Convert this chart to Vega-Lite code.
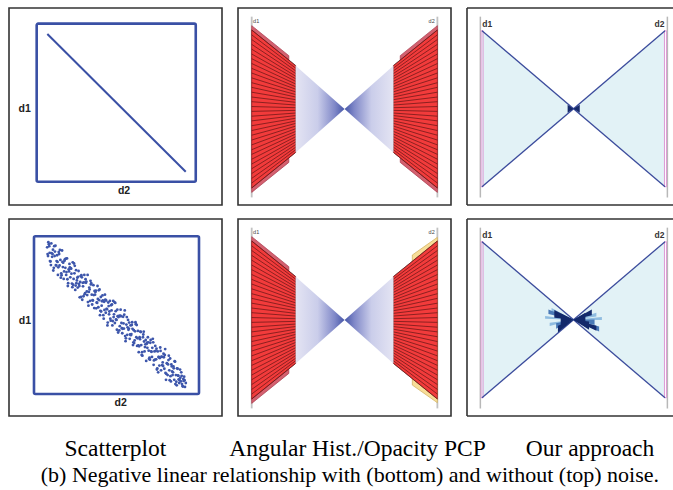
{
  "$schema": "https://vega.github.io/schema/vega-lite/v6.json",
  "padding": {"left": 8, "top": 7, "right": 0, "bottom": 0},
  "background": "white",
  "spacing": 12,
  "config": {"view": {"stroke": "#333333", "strokeWidth": 1.6}},
  "datasets": {
    "noisy": [
      {"x":0.080,"y":0.930},{"x":0.085,"y":0.875},{"x":0.090,"y":0.950},{"x":0.095,"y":0.895},{"x":0.100,"y":0.840},{"x":0.105,"y":0.955},{"x":0.110,"y":0.870},{"x":0.115,"y":0.915},{"x":0.120,"y":0.800},{"x":0.125,"y":0.875},{"x":0.130,"y":0.940},{"x":0.135,"y":0.815},{"x":0.140,"y":0.880},{"x":0.145,"y":0.755},{"x":0.150,"y":0.900},{"x":0.155,"y":0.815},{"x":0.160,"y":0.850},{"x":0.165,"y":0.765},{"x":0.170,"y":0.910},{"x":0.175,"y":0.805},{"x":0.180,"y":0.730},{"x":0.185,"y":0.845},{"x":0.190,"y":0.800},{"x":0.195,"y":0.755},{"x":0.200,"y":0.860},{"x":0.205,"y":0.685},{"x":0.210,"y":0.790},{"x":0.215,"y":0.825},{"x":0.220,"y":0.740},{"x":0.225,"y":0.795},{"x":0.230,"y":0.700},{"x":0.235,"y":0.835},{"x":0.240,"y":0.730},{"x":0.245,"y":0.765},{"x":0.250,"y":0.660},{"x":0.255,"y":0.785},{"x":0.260,"y":0.720},{"x":0.265,"y":0.675},{"x":0.270,"y":0.780},{"x":0.275,"y":0.685},{"x":0.280,"y":0.710},{"x":0.285,"y":0.615},{"x":0.290,"y":0.740},{"x":0.295,"y":0.705},{"x":0.300,"y":0.620},{"x":0.305,"y":0.755},{"x":0.310,"y":0.640},{"x":0.315,"y":0.705},{"x":0.320,"y":0.650},{"x":0.325,"y":0.755},{"x":0.330,"y":0.560},{"x":0.335,"y":0.675},{"x":0.340,"y":0.590},{"x":0.345,"y":0.695},{"x":0.350,"y":0.630},{"x":0.355,"y":0.595},{"x":0.360,"y":0.690},{"x":0.365,"y":0.545},{"x":0.370,"y":0.630},{"x":0.375,"y":0.655},{"x":0.380,"y":0.580},{"x":0.385,"y":0.685},{"x":0.390,"y":0.550},{"x":0.395,"y":0.595},{"x":0.400,"y":0.500},{"x":0.405,"y":0.615},{"x":0.410,"y":0.560},{"x":0.415,"y":0.625},{"x":0.420,"y":0.500},{"x":0.425,"y":0.585},{"x":0.430,"y":0.630},{"x":0.435,"y":0.515},{"x":0.440,"y":0.540},{"x":0.445,"y":0.435},{"x":0.450,"y":0.580},{"x":0.455,"y":0.505},{"x":0.460,"y":0.590},{"x":0.465,"y":0.465},{"x":0.470,"y":0.530},{"x":0.475,"y":0.435},{"x":0.480,"y":0.590},{"x":0.485,"y":0.505},{"x":0.490,"y":0.450},{"x":0.495,"y":0.525},{"x":0.500,"y":0.470},{"x":0.505,"y":0.535},{"x":0.510,"y":0.390},{"x":0.515,"y":0.495},{"x":0.520,"y":0.430},{"x":0.525,"y":0.535},{"x":0.530,"y":0.450},{"x":0.535,"y":0.385},{"x":0.540,"y":0.490},{"x":0.545,"y":0.415},{"x":0.550,"y":0.530},{"x":0.555,"y":0.335},{"x":0.560,"y":0.440},{"x":0.565,"y":0.375},{"x":0.570,"y":0.470},{"x":0.575,"y":0.415},{"x":0.580,"y":0.350},{"x":0.585,"y":0.435},{"x":0.590,"y":0.380},{"x":0.595,"y":0.455},{"x":0.600,"y":0.310},{"x":0.605,"y":0.405},{"x":0.610,"y":0.340},{"x":0.615,"y":0.455},{"x":0.620,"y":0.360},{"x":0.625,"y":0.305},{"x":0.630,"y":0.400},{"x":0.635,"y":0.265},{"x":0.640,"y":0.360},{"x":0.645,"y":0.395},{"x":0.650,"y":0.310},{"x":0.655,"y":0.265},{"x":0.660,"y":0.360},{"x":0.665,"y":0.395},{"x":0.670,"y":0.270},{"x":0.675,"y":0.315},{"x":0.680,"y":0.210},{"x":0.685,"y":0.325},{"x":0.690,"y":0.360},{"x":0.695,"y":0.275},{"x":0.700,"y":0.230},{"x":0.705,"y":0.325},{"x":0.710,"y":0.270},{"x":0.715,"y":0.235},{"x":0.720,"y":0.350},{"x":0.725,"y":0.185},{"x":0.730,"y":0.270},{"x":0.735,"y":0.305},{"x":0.740,"y":0.220},{"x":0.745,"y":0.155},{"x":0.750,"y":0.270},{"x":0.755,"y":0.235},{"x":0.760,"y":0.180},{"x":0.765,"y":0.295},{"x":0.770,"y":0.150},{"x":0.775,"y":0.235},{"x":0.780,"y":0.200},{"x":0.785,"y":0.255},{"x":0.790,"y":0.160},{"x":0.795,"y":0.285},{"x":0.800,"y":0.090},{"x":0.805,"y":0.195},{"x":0.810,"y":0.120},{"x":0.815,"y":0.215},{"x":0.820,"y":0.150},{"x":0.825,"y":0.225},{"x":0.830,"y":0.080},{"x":0.835,"y":0.175},{"x":0.840,"y":0.120},{"x":0.845,"y":0.175},{"x":0.850,"y":0.090},{"x":0.855,"y":0.205},{"x":0.860,"y":0.120},{"x":0.865,"y":0.055},{"x":0.870,"y":0.160},{"x":0.875,"y":0.115},{"x":0.880,"y":0.070},{"x":0.885,"y":0.155},{"x":0.890,"y":0.080},{"x":0.895,"y":0.115},{"x":0.900,"y":0.050},{"x":0.905,"y":0.095},{"x":0.910,"y":0.110},{"x":0.915,"y":0.045},{"x":0.920,"y":0.070},
      {"x":0.0825,"y":0.8875},{"x":0.0925,"y":0.9375},{"x":0.1025,"y":0.8175},{"x":0.1125,"y":0.8875},{"x":0.1225,"y":0.9375},{"x":0.1325,"y":0.8175},{"x":0.1425,"y":0.8375},{"x":0.1525,"y":0.8875},{"x":0.1625,"y":0.7375},{"x":0.1725,"y":0.8375},{"x":0.1825,"y":0.7775},{"x":0.1925,"y":0.8575},{"x":0.2025,"y":0.7275},{"x":0.2125,"y":0.7775},{"x":0.2225,"y":0.7975},{"x":0.2325,"y":0.6775},{"x":0.2425,"y":0.8275},{"x":0.2525,"y":0.6875},{"x":0.2625,"y":0.7375},{"x":0.2725,"y":0.6975},{"x":0.2825,"y":0.7475},{"x":0.2925,"y":0.5975},{"x":0.3025,"y":0.7075},{"x":0.3125,"y":0.7275},{"x":0.3225,"y":0.6275},{"x":0.3325,"y":0.6475},{"x":0.3425,"y":0.7175},{"x":0.3525,"y":0.5675},{"x":0.3625,"y":0.6275},{"x":0.3725,"y":0.6475},{"x":0.3825,"y":0.5775},{"x":0.3925,"y":0.6575},{"x":0.4025,"y":0.5275},{"x":0.4125,"y":0.5875},{"x":0.4225,"y":0.4775},{"x":0.4325,"y":0.5975},{"x":0.4425,"y":0.5375},{"x":0.4525,"y":0.5575},{"x":0.4625,"y":0.4775},{"x":0.4725,"y":0.5675},{"x":0.4825,"y":0.4875},{"x":0.4925,"y":0.5775},{"x":0.5025,"y":0.4075},{"x":0.5125,"y":0.4875},{"x":0.5225,"y":0.4975},{"x":0.5325,"y":0.4175},{"x":0.5425,"y":0.4475},{"x":0.5525,"y":0.3675},{"x":0.5625,"y":0.4875},{"x":0.5725,"y":0.4075},{"x":0.5825,"y":0.3775},{"x":0.5925,"y":0.4375},{"x":0.6025,"y":0.3275},{"x":0.6125,"y":0.3975},{"x":0.6225,"y":0.4375},{"x":0.6325,"y":0.3075},{"x":0.6425,"y":0.3475},{"x":0.6525,"y":0.2475},{"x":0.6625,"y":0.3775},{"x":0.6725,"y":0.2975},{"x":0.6825,"y":0.3175},{"x":0.6925,"y":0.3275},{"x":0.7025,"y":0.2175},{"x":0.7125,"y":0.2675},{"x":0.7225,"y":0.3275},{"x":0.7325,"y":0.2175},{"x":0.7425,"y":0.2875},{"x":0.7525,"y":0.1375},{"x":0.7625,"y":0.2275},{"x":0.7725,"y":0.2375},{"x":0.7825,"y":0.1775},{"x":0.7925,"y":0.2475},{"x":0.8025,"y":0.1275},{"x":0.8125,"y":0.1875},{"x":0.8225,"y":0.0875},{"x":0.8325,"y":0.1875},{"x":0.8425,"y":0.1375},{"x":0.8525,"y":0.2075},{"x":0.8625,"y":0.0775},{"x":0.8725,"y":0.1175},{"x":0.8825,"y":0.0875},{"x":0.8925,"y":0.1375},{"x":0.9025,"y":0.0475},{"x":0.9125,"y":0.0875},
      {"x":0.087,"y":0.963},{"x":0.097,"y":0.843},{"x":0.107,"y":0.893},{"x":0.117,"y":0.783},{"x":0.127,"y":0.903},{"x":0.137,"y":0.843},{"x":0.147,"y":0.803},{"x":0.157,"y":0.913},{"x":0.167,"y":0.753},{"x":0.177,"y":0.833},{"x":0.187,"y":0.853},{"x":0.197,"y":0.773},{"x":0.207,"y":0.703},{"x":0.217,"y":0.803},{"x":0.227,"y":0.763},{"x":0.237,"y":0.693},{"x":0.247,"y":0.813},{"x":0.257,"y":0.703},{"x":0.267,"y":0.743},{"x":0.277,"y":0.613},{"x":0.287,"y":0.753},{"x":0.297,"y":0.683},{"x":0.307,"y":0.633},{"x":0.317,"y":0.713},{"x":0.327,"y":0.583},{"x":0.337,"y":0.663},{"x":0.347,"y":0.703},{"x":0.357,"y":0.593},{"x":0.367,"y":0.653},{"x":0.377,"y":0.543},{"x":0.387,"y":0.603},{"x":0.397,"y":0.663},{"x":0.407,"y":0.523},{"x":0.417,"y":0.593},{"x":0.427,"y":0.533},{"x":0.437,"y":0.593},{"x":0.447,"y":0.453},{"x":0.457,"y":0.523},{"x":0.467,"y":0.563},{"x":0.477,"y":0.463},{"x":0.487,"y":0.583},{"x":0.497,"y":0.473},{"x":0.507,"y":0.493},{"x":0.517,"y":0.403},{"x":0.527,"y":0.493},{"x":0.537,"y":0.413},{"x":0.547,"y":0.503},{"x":0.557,"y":0.353},{"x":0.567,"y":0.423},{"x":0.577,"y":0.453},{"x":0.587,"y":0.373},{"x":0.597,"y":0.413},{"x":0.607,"y":0.323},{"x":0.617,"y":0.443},{"x":0.627,"y":0.353},{"x":0.637,"y":0.303},{"x":0.647,"y":0.393},{"x":0.657,"y":0.243},{"x":0.667,"y":0.333},{"x":0.677,"y":0.343},{"x":0.687,"y":0.293},{"x":0.697,"y":0.223},{"x":0.707,"y":0.343},{"x":0.717,"y":0.293},{"x":0.727,"y":0.213},{"x":0.737,"y":0.273},{"x":0.747,"y":0.163},{"x":0.757,"y":0.233},{"x":0.767,"y":0.273},{"x":0.777,"y":0.183},{"x":0.787,"y":0.233},{"x":0.797,"y":0.133},{"x":0.807,"y":0.193},{"x":0.817,"y":0.243},{"x":0.827,"y":0.113},{"x":0.837,"y":0.143},{"x":0.847,"y":0.163},{"x":0.857,"y":0.063},{"x":0.867,"y":0.163},{"x":0.877,"y":0.093},{"x":0.887,"y":0.103},{"x":0.897,"y":0.063},{"x":0.907,"y":0.083}
    ],
    "pcpLines": [
      {"x":0,"x2":0.237,"y":0.974,"y2":0.761},{"x":0,"x2":0.237,"y":0.945,"y2":0.745},{"x":0,"x2":0.237,"y":0.917,"y2":0.729},{"x":0,"x2":0.237,"y":0.888,"y2":0.713},{"x":0,"x2":0.237,"y":0.859,"y2":0.697},{"x":0,"x2":0.237,"y":0.830,"y2":0.682},{"x":0,"x2":0.237,"y":0.802,"y2":0.666},{"x":0,"x2":0.237,"y":0.773,"y2":0.650},{"x":0,"x2":0.237,"y":0.744,"y2":0.634},{"x":0,"x2":0.237,"y":0.716,"y2":0.619},{"x":0,"x2":0.237,"y":0.687,"y2":0.603},{"x":0,"x2":0.237,"y":0.658,"y2":0.587},{"x":0,"x2":0.237,"y":0.630,"y2":0.572},{"x":0,"x2":0.237,"y":0.601,"y2":0.556},{"x":0,"x2":0.237,"y":0.572,"y2":0.540},{"x":0,"x2":0.237,"y":0.544,"y2":0.524},{"x":0,"x2":0.237,"y":0.515,"y2":0.508},{"x":0,"x2":0.237,"y":0.486,"y2":0.492},{"x":0,"x2":0.237,"y":0.457,"y2":0.476},{"x":0,"x2":0.237,"y":0.429,"y2":0.461},{"x":0,"x2":0.237,"y":0.400,"y2":0.445},{"x":0,"x2":0.237,"y":0.371,"y2":0.429},{"x":0,"x2":0.237,"y":0.343,"y2":0.414},{"x":0,"x2":0.237,"y":0.314,"y2":0.398},{"x":0,"x2":0.237,"y":0.285,"y2":0.382},{"x":0,"x2":0.237,"y":0.256,"y2":0.366},{"x":0,"x2":0.237,"y":0.228,"y2":0.350},{"x":0,"x2":0.237,"y":0.199,"y2":0.334},{"x":0,"x2":0.237,"y":0.170,"y2":0.318},{"x":0,"x2":0.237,"y":0.142,"y2":0.303},{"x":0,"x2":0.237,"y":0.113,"y2":0.287},{"x":0,"x2":0.237,"y":0.084,"y2":0.271},{"x":0,"x2":0.237,"y":0.056,"y2":0.256},{"x":0,"x2":0.237,"y":0.027,"y2":0.240},
      {"x":1,"x2":0.763,"y":0.974,"y2":0.761},{"x":1,"x2":0.763,"y":0.945,"y2":0.745},{"x":1,"x2":0.763,"y":0.917,"y2":0.729},{"x":1,"x2":0.763,"y":0.888,"y2":0.713},{"x":1,"x2":0.763,"y":0.859,"y2":0.697},{"x":1,"x2":0.763,"y":0.830,"y2":0.682},{"x":1,"x2":0.763,"y":0.802,"y2":0.666},{"x":1,"x2":0.763,"y":0.773,"y2":0.650},{"x":1,"x2":0.763,"y":0.744,"y2":0.634},{"x":1,"x2":0.763,"y":0.716,"y2":0.619},{"x":1,"x2":0.763,"y":0.687,"y2":0.603},{"x":1,"x2":0.763,"y":0.658,"y2":0.587},{"x":1,"x2":0.763,"y":0.630,"y2":0.572},{"x":1,"x2":0.763,"y":0.601,"y2":0.556},{"x":1,"x2":0.763,"y":0.572,"y2":0.540},{"x":1,"x2":0.763,"y":0.544,"y2":0.524},{"x":1,"x2":0.763,"y":0.515,"y2":0.508},{"x":1,"x2":0.763,"y":0.486,"y2":0.492},{"x":1,"x2":0.763,"y":0.457,"y2":0.476},{"x":1,"x2":0.763,"y":0.429,"y2":0.461},{"x":1,"x2":0.763,"y":0.400,"y2":0.445},{"x":1,"x2":0.763,"y":0.371,"y2":0.429},{"x":1,"x2":0.763,"y":0.343,"y2":0.414},{"x":1,"x2":0.763,"y":0.314,"y2":0.398},{"x":1,"x2":0.763,"y":0.285,"y2":0.382},{"x":1,"x2":0.763,"y":0.256,"y2":0.366},{"x":1,"x2":0.763,"y":0.228,"y2":0.350},{"x":1,"x2":0.763,"y":0.199,"y2":0.334},{"x":1,"x2":0.763,"y":0.170,"y2":0.318},{"x":1,"x2":0.763,"y":0.142,"y2":0.303},{"x":1,"x2":0.763,"y":0.113,"y2":0.287},{"x":1,"x2":0.763,"y":0.084,"y2":0.271},{"x":1,"x2":0.763,"y":0.056,"y2":0.256},{"x":1,"x2":0.763,"y":0.027,"y2":0.240}
    ]
  },
  "vconcat": [
    {
      "spacing": 16,
      "bounds": "flush",
      "hconcat": [
        {
          "width": 213, "height": 197,
          "encoding": {
            "x": {"field": "x", "type": "quantitative", "scale": {"domain": [-0.174, 1.165]}, "axis": null},
            "y": {"field": "y", "type": "quantitative", "scale": {"domain": [-0.147, 1.099]}, "axis": null}
          },
          "layer": [
            {"data": {"values": [{"x": 0, "y": 0, "x2": 1, "y2": 1}]}, "mark": {"type": "rect", "fill": "white", "fillOpacity": 0, "stroke": "#3a50a5", "strokeWidth": 2.6, "cornerRadius": 1.5}, "encoding": {"x2": {"field": "x2"}, "y2": {"field": "y2"}}},
            {"data": {"values": [{"x": 0.067, "y": 0.935, "x2": 0.937, "y2": 0.063}]}, "mark": {"type": "rule", "color": "#3a50a5", "strokeWidth": 2}, "encoding": {"x2": {"field": "x2"}, "y2": {"field": "y2"}}},
            {"data": {"values": [{"x": -0.075, "y": 0.46, "label": "d1"}, {"x": 0.549, "y": -0.061, "label": "d2"}]}, "mark": {"type": "text", "font": "Liberation Sans", "fontWeight": "bold", "fontSize": 10.5, "color": "#222222", "baseline": "middle"}, "encoding": {"text": {"field": "label"}}}
          ]
        },
        {
          "width": 213, "height": 197,
          "encoding": {
            "x": {"field": "x", "type": "quantitative", "scale": {"domain": [-0.0738, 1.0733]}, "axis": null},
            "y": {"field": "y", "type": "quantitative", "scale": {"domain": [-0.0756, 1.106]}, "axis": null}
          },
          "layer": [
            {"data": {"values": [{"x": 0, "y": -0.03, "y2": 1.054}, {"x": 1, "y": -0.03, "y2": 1.054}]}, "mark": {"type": "rule", "color": "#c2c2c2", "strokeWidth": 1.8}, "encoding": {"y2": {"field": "y2"}}},
            {"data": {"values": [
              {"id": "L", "kind": "rose", "x": 0, "y": 1.0, "y2": 0.0}, {"id": "L", "kind": "rose", "x": 0.2, "y": 0.82, "y2": 0.18},
              {"id": "R", "kind": "rose", "x": 0.8, "y": 0.82, "y2": 0.18}, {"id": "R", "kind": "rose", "x": 1, "y": 1.0, "y2": 0.0}]},
             "mark": {"type": "area", "strokeWidth": 0.7},
             "encoding": {"y2": {"field": "y2"}, "detail": {"field": "id"},
               "fill": {"field": "kind", "type": "nominal", "scale": {"domain": ["rose", "yellow"], "range": ["#d4606f", "#f7dd98"]}, "legend": null},
               "stroke": {"field": "kind", "type": "nominal", "scale": {"domain": ["rose", "yellow"], "range": ["#a63a4a", "#cfae5a"]}, "legend": null}}},
            {"data": {"values": [
              {"id": "L", "x": 0, "y": 0.974, "y2": 0.026}, {"id": "L", "x": 0.237, "y": 0.76, "y2": 0.24},
              {"id": "R", "x": 0.763, "y": 0.76, "y2": 0.24}, {"id": "R", "x": 1, "y": 0.974, "y2": 0.026}]},
             "mark": {"type": "area", "color": "#f23b3b", "stroke": "#7a1c1c", "strokeWidth": 0.6},
             "encoding": {"y2": {"field": "y2"}, "detail": {"field": "id"}}},
            {"data": {"name": "pcpLines"}, "mark": {"type": "rule", "color": "#5c1414", "strokeWidth": 0.8, "opacity": 0.85},
             "encoding": {"x2": {"field": "x2"}, "y2": {"field": "y2"}}},
            {"data": {"values": [{"x": 0.237, "y": 0.76, "y2": 0.24}, {"x": 0.5, "y": 0.5, "y2": 0.5}]},
             "mark": {"type": "area", "color": {"gradient": "linear", "x1": 0, "y1": 0, "x2": 1, "y2": 0, "stops": [{"offset": 0, "color": "#e4e4f3"}, {"offset": 0.45, "color": "#cacdea"}, {"offset": 0.8, "color": "#8088c8"}, {"offset": 1, "color": "#4656a8"}]}},
             "encoding": {"y2": {"field": "y2"}}},
            {"data": {"values": [{"x": 0.5, "y": 0.5, "y2": 0.5}, {"x": 0.763, "y": 0.76, "y2": 0.24}]},
             "mark": {"type": "area", "color": {"gradient": "linear", "x1": 1, "y1": 0, "x2": 0, "y2": 0, "stops": [{"offset": 0, "color": "#e4e4f3"}, {"offset": 0.45, "color": "#cacdea"}, {"offset": 0.8, "color": "#8088c8"}, {"offset": 1, "color": "#4656a8"}]}},
             "encoding": {"y2": {"field": "y2"}}},
            {"data": {"values": [{"x": 0.024, "y": 1.03, "label": "d1"}, {"x": 0.969, "y": 1.03, "label": "d2"}]}, "mark": {"type": "text", "font": "Liberation Sans", "fontSize": 5.5, "color": "#444444", "baseline": "middle"}, "encoding": {"text": {"field": "label"}}}
          ]
        },
        {
          "width": 206, "height": 197, "view": {"stroke": null},
          "encoding": {
            "x": {"field": "x", "type": "quantitative", "scale": {"domain": [-0.082, 1.0437]}, "axis": null},
            "y": {"field": "y", "type": "quantitative", "scale": {"domain": [-0.117, 1.1455]}, "axis": null}
          },
          "layer": [
            {"data": {"values": [{"x": -0.082, "x2": -0.082, "y": -0.117, "y2": 1.1455}, {"x": -0.082, "x2": 1.0437, "y": 1.1455, "y2": 1.1455}, {"x": -0.082, "x2": 1.0437, "y": -0.117, "y2": -0.117}]}, "mark": {"type": "rule", "color": "#333333", "strokeWidth": 1.6}, "encoding": {"x2": {"field": "x2"}, "y2": {"field": "y2"}}},
            {"data": {"values": [{"id": "L", "x": 0, "y": 1, "y2": 0}, {"id": "L", "x": 0.5, "y": 0.5, "y2": 0.5}, {"id": "R", "x": 0.5, "y": 0.5, "y2": 0.5}, {"id": "R", "x": 1, "y": 1, "y2": 0}]}, "mark": {"type": "area", "color": "#e2f2f6"}, "encoding": {"y2": {"field": "y2"}, "detail": {"field": "id"}}},
            {"data": {"values": [{"x": -0.009, "x2": -0.009, "y": -0.069, "y2": 1.09}, {"x": 1.013, "x2": 1.013, "y": -0.069, "y2": 1.09}]}, "mark": {"type": "rule", "color": "#b8b8b8", "strokeWidth": 1.5}, "encoding": {"x2": {"field": "x2"}, "y2": {"field": "y2"}}},
            {"data": {"values": [{"x": -0.005, "x2": 0.006, "y": 0, "y2": 1}, {"x": 0.997, "x2": 1.008, "y": 0, "y2": 1}]}, "mark": {"type": "rect", "fill": "white", "fillOpacity": 0, "stroke": "#dc90d2", "strokeWidth": 0.9}, "encoding": {"x2": {"field": "x2"}, "y2": {"field": "y2"}}},
            {"data": {"values": [{"x": 0, "y": 1, "x2": 1, "y2": 0}, {"x": 0, "y": 0, "x2": 1, "y2": 1}]}, "mark": {"type": "rule", "color": "#3b4b9c", "strokeWidth": 1.3}, "encoding": {"x2": {"field": "x2"}, "y2": {"field": "y2"}}},
            {"data": {"values": [{"id": "a", "x": 0.468, "y": 0.526, "y2": 0.474}, {"id": "a", "x": 0.5, "y": 0.5, "y2": 0.5}, {"id": "b", "x": 0.5, "y": 0.5, "y2": 0.5}, {"id": "b", "x": 0.534, "y": 0.526, "y2": 0.474}]}, "mark": {"type": "area", "color": "#16296b"}, "encoding": {"y2": {"field": "y2"}, "detail": {"field": "id"}}},
            {"data": {"values": [{"x": 0.029, "y": 1.045, "label": "d1"}, {"x": 0.97, "y": 1.045, "label": "d2"}]}, "mark": {"type": "text", "font": "Liberation Sans", "fontWeight": "bold", "fontSize": 8.5, "color": "#333333", "baseline": "middle"}, "encoding": {"text": {"field": "label"}}}
          ]
        }
      ]
    },
    {
      "spacing": 16,
      "bounds": "flush",
      "hconcat": [
        {
          "width": 213, "height": 197,
          "encoding": {
            "x": {"field": "x", "type": "quantitative", "scale": {"domain": [-0.1515, 1.1394]}, "axis": null},
            "y": {"field": "y", "type": "quantitative", "scale": {"domain": [-0.1395, 1.1097]}, "axis": null}
          },
          "layer": [
            {"data": {"values": [{"x": 0, "y": 0, "x2": 1, "y2": 1}]}, "mark": {"type": "rect", "fill": "white", "fillOpacity": 0, "stroke": "#3a50a5", "strokeWidth": 2.6, "cornerRadius": 1.5}, "encoding": {"x2": {"field": "x2"}, "y2": {"field": "y2"}}},
            {"data": {"name": "noisy"}, "mark": {"type": "circle", "size": 8, "color": "#3d56ab", "opacity": 1}},
            {"data": {"values": [{"x": -0.055, "y": 0.465, "label": "d1"}, {"x": 0.525, "y": -0.055, "label": "d2"}]}, "mark": {"type": "text", "font": "Liberation Sans", "fontWeight": "bold", "fontSize": 10.5, "color": "#222222", "baseline": "middle"}, "encoding": {"text": {"field": "label"}}}
          ]
        },
        {
          "width": 213, "height": 197,
          "encoding": {
            "x": {"field": "x", "type": "quantitative", "scale": {"domain": [-0.0738, 1.0733]}, "axis": null},
            "y": {"field": "y", "type": "quantitative", "scale": {"domain": [-0.0756, 1.106]}, "axis": null}
          },
          "layer": [
            {"data": {"values": [{"x": 0, "y": -0.03, "y2": 1.054}, {"x": 1, "y": -0.03, "y2": 1.054}]}, "mark": {"type": "rule", "color": "#c2c2c2", "strokeWidth": 1.8}, "encoding": {"y2": {"field": "y2"}}},
            {"data": {"values": [
              {"id": "L", "kind": "rose", "x": 0, "y": 1.0, "y2": 0.0}, {"id": "L", "kind": "rose", "x": 0.2, "y": 0.82, "y2": 0.18},
              {"id": "R", "kind": "yellow", "x": 0.865, "y": 0.89, "y2": 0.11}, {"id": "R", "kind": "yellow", "x": 1, "y": 0.996, "y2": 0.004}]},
             "mark": {"type": "area", "strokeWidth": 0.7},
             "encoding": {"y2": {"field": "y2"}, "detail": {"field": "id"},
               "fill": {"field": "kind", "type": "nominal", "scale": {"domain": ["rose", "yellow"], "range": ["#d4606f", "#f7dd98"]}, "legend": null},
               "stroke": {"field": "kind", "type": "nominal", "scale": {"domain": ["rose", "yellow"], "range": ["#a63a4a", "#cfae5a"]}, "legend": null}}},
            {"data": {"values": [
              {"id": "L", "x": 0, "y": 0.974, "y2": 0.026}, {"id": "L", "x": 0.237, "y": 0.76, "y2": 0.24},
              {"id": "R", "x": 0.763, "y": 0.76, "y2": 0.24}, {"id": "R", "x": 1, "y": 0.974, "y2": 0.026}]},
             "mark": {"type": "area", "color": "#f23b3b", "stroke": "#7a1c1c", "strokeWidth": 0.6},
             "encoding": {"y2": {"field": "y2"}, "detail": {"field": "id"}}},
            {"data": {"name": "pcpLines"}, "mark": {"type": "rule", "color": "#5c1414", "strokeWidth": 0.8, "opacity": 0.85},
             "encoding": {"x2": {"field": "x2"}, "y2": {"field": "y2"}}},
            {"data": {"values": [{"x": 0.237, "y": 0.76, "y2": 0.24}, {"x": 0.5, "y": 0.5, "y2": 0.5}]},
             "mark": {"type": "area", "color": {"gradient": "linear", "x1": 0, "y1": 0, "x2": 1, "y2": 0, "stops": [{"offset": 0, "color": "#e4e4f3"}, {"offset": 0.45, "color": "#cacdea"}, {"offset": 0.8, "color": "#8088c8"}, {"offset": 1, "color": "#4656a8"}]}},
             "encoding": {"y2": {"field": "y2"}}},
            {"data": {"values": [{"x": 0.5, "y": 0.5, "y2": 0.5}, {"x": 0.763, "y": 0.76, "y2": 0.24}]},
             "mark": {"type": "area", "color": {"gradient": "linear", "x1": 1, "y1": 0, "x2": 0, "y2": 0, "stops": [{"offset": 0, "color": "#e4e4f3"}, {"offset": 0.45, "color": "#cacdea"}, {"offset": 0.8, "color": "#8088c8"}, {"offset": 1, "color": "#4656a8"}]}},
             "encoding": {"y2": {"field": "y2"}}},
            {"data": {"values": [{"x": 0.024, "y": 1.03, "label": "d1"}, {"x": 0.969, "y": 1.03, "label": "d2"}]}, "mark": {"type": "text", "font": "Liberation Sans", "fontSize": 5.5, "color": "#444444", "baseline": "middle"}, "encoding": {"text": {"field": "label"}}}
          ]
        },
        {
          "width": 206, "height": 197, "view": {"stroke": null},
          "encoding": {
            "x": {"field": "x", "type": "quantitative", "scale": {"domain": [-0.082, 1.0437]}, "axis": null},
            "y": {"field": "y", "type": "quantitative", "scale": {"domain": [-0.117, 1.1455]}, "axis": null}
          },
          "layer": [
            {"data": {"values": [{"x": -0.082, "x2": -0.082, "y": -0.117, "y2": 1.1455}, {"x": -0.082, "x2": 1.0437, "y": 1.1455, "y2": 1.1455}, {"x": -0.082, "x2": 1.0437, "y": -0.117, "y2": -0.117}]}, "mark": {"type": "rule", "color": "#333333", "strokeWidth": 1.6}, "encoding": {"x2": {"field": "x2"}, "y2": {"field": "y2"}}},
            {"data": {"values": [{"id": "L", "x": 0, "y": 1, "y2": 0}, {"id": "L", "x": 0.5, "y": 0.5, "y2": 0.5}, {"id": "R", "x": 0.5, "y": 0.5, "y2": 0.5}, {"id": "R", "x": 1, "y": 1, "y2": 0}]}, "mark": {"type": "area", "color": "#e2f2f6"}, "encoding": {"y2": {"field": "y2"}, "detail": {"field": "id"}}},
            {"data": {"values": [{"x": -0.009, "x2": -0.009, "y": -0.069, "y2": 1.09}, {"x": 1.013, "x2": 1.013, "y": -0.069, "y2": 1.09}]}, "mark": {"type": "rule", "color": "#b8b8b8", "strokeWidth": 1.5}, "encoding": {"x2": {"field": "x2"}, "y2": {"field": "y2"}}},
            {"data": {"values": [{"x": -0.005, "x2": 0.006, "y": 0, "y2": 1}, {"x": 0.997, "x2": 1.008, "y": 0, "y2": 1}]}, "mark": {"type": "rect", "fill": "white", "fillOpacity": 0, "stroke": "#dc90d2", "strokeWidth": 0.9}, "encoding": {"x2": {"field": "x2"}, "y2": {"field": "y2"}}},
            {"data": {"values": [{"x": 0, "y": 1, "x2": 1, "y2": 0}, {"x": 0, "y": 0, "x2": 1, "y2": 1}]}, "mark": {"type": "rule", "color": "#3b4b9c", "strokeWidth": 1.3}, "encoding": {"x2": {"field": "x2"}, "y2": {"field": "y2"}}},
            {"data": {"values": [
              {"id": "w1", "x": 0.345, "y": 0.524, "y2": 0.506}, {"id": "w1", "x": 0.5, "y": 0.5, "y2": 0.5},
              {"id": "w7", "x": 0.5, "y": 0.5, "y2": 0.5}, {"id": "w7", "x": 0.655, "y": 0.518, "y2": 0.498},
              {"id": "w13", "x": 0.5, "y": 0.5, "y2": 0.5}, {"id": "w13", "x": 0.625, "y": 0.545, "y2": 0.52},
              {"id": "w14", "x": 0.37, "y": 0.48, "y2": 0.46}, {"id": "w14", "x": 0.5, "y": 0.5, "y2": 0.5},
              {"id": "w16", "x": 0.38, "y": 0.575, "y2": 0.555}, {"id": "w16", "x": 0.5, "y": 0.5, "y2": 0.5}]},
             "mark": {"type": "area", "color": "#86b6de", "opacity": 0.9}, "encoding": {"y2": {"field": "y2"}, "detail": {"field": "id"}}},
            {"data": {"values": [
              {"id": "w2", "x": 0.363, "y": 0.566, "y2": 0.536}, {"id": "w2", "x": 0.5, "y": 0.5, "y2": 0.5},
              {"id": "w5", "x": 0.405, "y": 0.478, "y2": 0.442}, {"id": "w5", "x": 0.5, "y": 0.5, "y2": 0.5},
              {"id": "w9", "x": 0.5, "y": 0.5, "y2": 0.5}, {"id": "w9", "x": 0.64, "y": 0.456, "y2": 0.424},
              {"id": "w11", "x": 0.5, "y": 0.5, "y2": 0.5}, {"id": "w11", "x": 0.615, "y": 0.502, "y2": 0.466}]},
             "mark": {"type": "area", "color": "#3a6db0", "opacity": 0.9}, "encoding": {"y2": {"field": "y2"}, "detail": {"field": "id"}}},
            {"data": {"values": [
              {"id": "w3", "x": 0.395, "y": 0.562, "y2": 0.512}, {"id": "w3", "x": 0.5, "y": 0.5, "y2": 0.5},
              {"id": "w4", "x": 0.415, "y": 0.462, "y2": 0.418}, {"id": "w4", "x": 0.5, "y": 0.5, "y2": 0.5},
              {"id": "w6", "x": 0.43, "y": 0.54, "y2": 0.46}, {"id": "w6", "x": 0.5, "y": 0.5, "y2": 0.5},
              {"id": "w8", "x": 0.5, "y": 0.5, "y2": 0.5}, {"id": "w8", "x": 0.60, "y": 0.566, "y2": 0.528},
              {"id": "w10", "x": 0.5, "y": 0.5, "y2": 0.5}, {"id": "w10", "x": 0.585, "y": 0.488, "y2": 0.436},
              {"id": "w12", "x": 0.5, "y": 0.5, "y2": 0.5}, {"id": "w12", "x": 0.565, "y": 0.545, "y2": 0.455},
              {"id": "w15", "x": 0.5, "y": 0.5, "y2": 0.5}, {"id": "w15", "x": 0.625, "y": 0.462, "y2": 0.43}]},
             "mark": {"type": "area", "color": "#13296b"}, "encoding": {"y2": {"field": "y2"}, "detail": {"field": "id"}}},
            {"data": {"values": [{"x": 0.029, "y": 1.045, "label": "d1"}, {"x": 0.97, "y": 1.045, "label": "d2"}]}, "mark": {"type": "text", "font": "Liberation Sans", "fontWeight": "bold", "fontSize": 8.5, "color": "#333333", "baseline": "middle"}, "encoding": {"text": {"field": "label"}}}
          ]
        }
      ]
    },
    {
      "width": 672, "height": 65, "view": {"stroke": null},
      "data": {"values": [
        {"label": "Scatterplot", "line": "column", "pos": 0.1583, "row": 0.415},
        {"label": "Angular Hist./Opacity PCP", "line": "column", "pos": 0.5186, "row": 0.415},
        {"label": "Our approach", "line": "column", "pos": 0.8646, "row": 0.415},
        {"label": "(b) Negative linear relationship with (bottom) and without (top) noise.", "line": "caption", "pos": 0.5073, "row": 0.815}
      ]},
      "encoding": {
        "x": {"field": "pos", "type": "quantitative", "scale": {"domain": [0, 1]}, "axis": null},
        "y": {"field": "row", "type": "quantitative", "scale": {"domain": [0, 1], "reverse": true}, "axis": null},
        "text": {"field": "label"}
      },
      "layer": [
        {"transform": [{"filter": "datum.line === 'column'"}], "mark": {"type": "text", "font": "Liberation Serif", "fontSize": 23.5, "align": "center", "baseline": "alphabetic", "color": "black"}},
        {"transform": [{"filter": "datum.line === 'caption'"}], "mark": {"type": "text", "font": "Liberation Serif", "fontSize": 22, "align": "center", "baseline": "alphabetic", "color": "black"}}
      ]
    }
  ]
}
